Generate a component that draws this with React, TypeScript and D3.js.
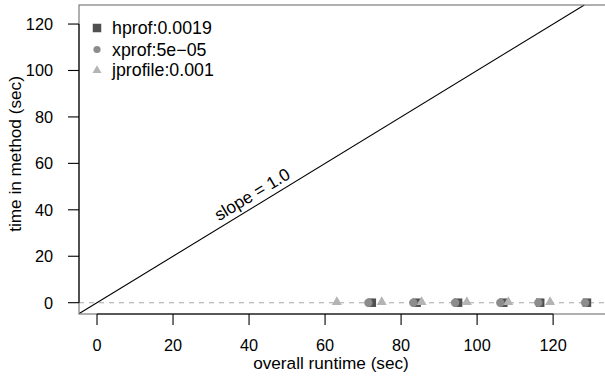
import React from "react";
import * as d3 from "d3";

const W = 605;
const H = 379;

const xTicks = [0, 20, 40, 60, 80, 100, 120];
const yTicks = [0, 20, 40, 60, 80, 100, 120];

const hprofX = [72.3, 84.1, 95.0, 106.9, 116.6, 128.9];
const hprofY = [0, 0, 0, 0, 0, 0];
const xprofX = [71.4, 83.2, 94.2, 106.1, 116.1, 128.4];
const xprofY = [0, 0, 0, 0, 0, 0];
const jprofX = [63.1, 74.9, 85.4, 97.3, 108.2, 119.2];
const jprofY = [0.3, 0.3, 0.3, 0.3, 0.3, 0.3];

const legendLabels = ["hprof:0.0019", "xprof:5e\u221205", "jprofile:0.001"];
const slopeText = "slope = 1.0";
const slopeValue = 1.0;
const xTitle = "overall runtime (sec)";
const yTitle = "time in method (sec)";

const FONT = "'Liberation Sans', Arial, Helvetica, sans-serif";
const FS_TICK = 16.3;
const FS_TITLE = 17.2;
const FS_LEGEND = 17.8;

const C_H = "#505050";
const C_X = "#8c8c8c";
const C_J = "#b4b4b4";

export default function App() {
  const x = d3.scaleLinear().domain([-4.74, 134.7]).range([79, 609]);
  const y = d3.scaleLinear().domain([-4.87, 128.2]).range([314, 5]);
  const [x0, x1] = x.domain();
  const [y0, y1] = y.domain();

  const lineStart = Math.max(x0, y0 / slopeValue);
  const lineEnd = Math.min(x1, y1 / slopeValue);
  const diag = d3.line<number>()
    .x((d) => x(d))
    .y((d) => y(d * slopeValue))([lineStart, lineEnd]) as string;

  const sq = 8.5;
  const cr = 4.2;
  const triPath = (cx: number, cy: number, s = 10) => {
    const h = s * 0.866;
    return `M${cx - s / 2},${cy + h / 3}L${cx + s / 2},${cy + h / 3}L${cx},${cy - (2 * h) / 3}Z`;
  };

  const legendRowsY = [28, 49.5, 70];
  const legendX = 97;

  return (
    <svg
      width={W}
      height={H}
      style={{ position: "absolute", left: 0, top: 0, background: "#fff" }}
      fontFamily={FONT}
      fontSize={FS_TICK}
    >
      <defs>
        <clipPath id="plotClip">
          <rect x={x(x0)} y={y(y1)} width={x(x1) - x(x0)} height={y(y0) - y(y1)} />
        </clipPath>
      </defs>
      <rect x={0} y={0} width={W} height={H} fill="#fff" />

      {/* dashed zero line */}
      <line
        x1={x(x0)}
        x2={x(x1)}
        y1={y(0)}
        y2={y(0)}
        stroke="#a8a8a8"
        strokeWidth={1.1}
        strokeDasharray="5,5"
      />

      {/* slope line */}
      <path d={diag} stroke="#000" strokeWidth={1.1} fill="none" clipPath="url(#plotClip)" />
      <text
        transform={`translate(${x(41.6)},${y(44.5)}) rotate(-31)`}
        textAnchor="middle"
        fill="#000"
        fontSize={FS_TITLE}
      >
        {slopeText}
      </text>

      {/* points */}
      {hprofX.map((v, i) => (
        <rect
          key={"h" + i}
          x={x(v) - sq / 2}
          y={y(hprofY[i]) - sq / 2}
          width={sq}
          height={sq}
          fill={C_H}
        />
      ))}
      {xprofX.map((v, i) => (
        <circle key={"x" + i} cx={x(v)} cy={y(xprofY[i])} r={cr} fill={C_X} />
      ))}
      {jprofX.map((v, i) => (
        <path key={"j" + i} d={triPath(x(v), y(jprofY[i]))} fill={C_J} />
      ))}

      {/* box */}
      <rect
        x={x(x0)}
        y={y(y1)}
        width={x(x1) - x(x0)}
        height={y(y0) - y(y1)}
        fill="none"
        stroke="#707070"
        strokeWidth={1.1}
      />

      {/* x axis */}
      <line x1={x(xTicks[0])} x2={x(xTicks[xTicks.length - 1])} y1={314} y2={314} stroke="#000" strokeWidth={1.1} />
      {xTicks.map((t) => (
        <g key={"xt" + t}>
          <line x1={x(t)} x2={x(t)} y1={314} y2={325} stroke="#000" strokeWidth={1.1} />
          <text x={x(t)} y={351} textAnchor="middle" fill="#000">
            {t}
          </text>
        </g>
      ))}
      <text x={331} y={368.5} textAnchor="middle" fill="#000" fontSize={FS_TITLE}>
        {xTitle}
      </text>

      {/* y axis */}
      <line x1={79} x2={79} y1={y(yTicks[0])} y2={y(yTicks[yTicks.length - 1])} stroke="#000" strokeWidth={1.1} />
      {yTicks.map((t) => (
        <g key={"yt" + t}>
          <line x1={68} x2={79} y1={y(t)} y2={y(t)} stroke="#000" strokeWidth={1.1} />
          <text x={53} y={y(t)} dy="0.36em" textAnchor="end" fill="#000">
            {t}
          </text>
        </g>
      ))}
      <text transform={`translate(21,154) rotate(-90)`} textAnchor="middle" fill="#000" fontSize={FS_TITLE}>
        {yTitle}
      </text>

      {/* legend */}
      <rect x={legendX - sq / 2} y={legendRowsY[0] - sq / 2} width={sq} height={sq} fill={C_H} />
      <circle cx={legendX} cy={legendRowsY[1]} r={cr - 0.6} fill={C_X} />
      <path d={triPath(legendX, legendRowsY[2] + 0.5, 9)} fill={C_J} />
      {legendLabels.map((l, i) => (
        <text key={"lg" + i} x={112} y={legendRowsY[i]} dy="0.36em" fill="#000" fontSize={FS_LEGEND}>
          {l}
        </text>
      ))}
    </svg>
  );
}
